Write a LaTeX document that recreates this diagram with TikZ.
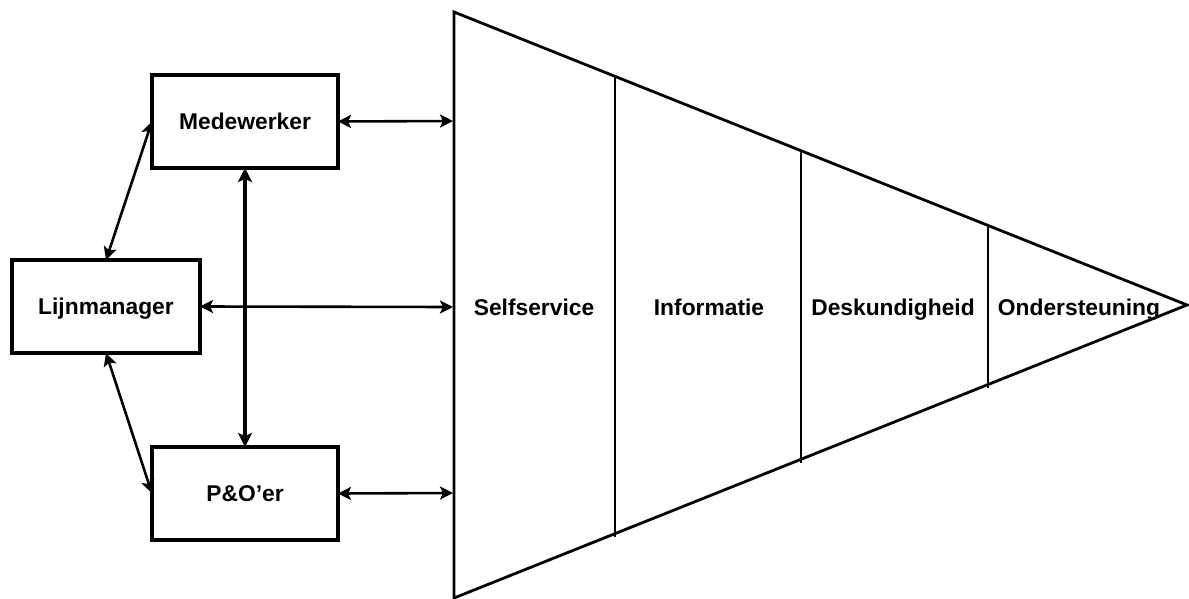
\documentclass[tikz,border=0pt]{standalone}
\usepackage{fontspec}
\setmainfont{Liberation Sans}
\usetikzlibrary{arrows.meta}
\begin{document}
\begin{tikzpicture}[x=1pt,y=-1pt,
  box/.style={draw,line width=3.5pt,minimum width=186pt,minimum height=93pt,inner sep=0pt,outer sep=0pt,text height=16.4pt,text depth=0pt,font=\fontsize{22.8}{26}\selectfont\bfseries},
  seglabel/.style={inner sep=0pt,text height=16.4pt,text depth=0pt,font=\fontsize{22.8}{26}\selectfont\bfseries},
  conn/.style={line width=2.6pt,{Stealth[length=13pt,width=13pt,inset=3pt]}-{Stealth[length=13pt,width=13pt,inset=3pt]}},
  thickconn/.style={line width=4.5pt,{Stealth[length=14pt,width=14pt,inset=3pt]}-{Stealth[length=14pt,width=14pt,inset=3pt]}},
  tri/.style={line width=2.8pt,line join=miter}]
\useasboundingbox (0,0) rectangle (1189,599);
% triangle
\coordinate (T1) at (454,12);
\coordinate (T2) at (1187,305);
\coordinate (T3) at (454,598);
\draw[tri] (T1) -- (T2) -- (T3) -- cycle;
% dividers
\coordinate (d1a) at (615,76);  \coordinate (d1b) at (615,537);
\coordinate (d2a) at (801,150); \coordinate (d2b) at (801,463);
\coordinate (d3a) at (988,225); \coordinate (d3b) at (988,388);
\draw[line width=2.5pt] (d1a) -- (d1b);
\draw[line width=2.5pt] (d2a) -- (d2b);
\draw[line width=2.5pt] (d3a) -- (d3b);
% segment labels
\node[seglabel] (s1) at (534,307) {Selfservice};
\node[seglabel] (s2) at (709,307) {Informatie};
\node[seglabel] (s3) at (893,307) {Deskundigheid};
\node[seglabel] (s4) at (1079,307) {Ondersteuning};
% boxes
\node[box] (med) at (245,121.5) {Medewerker};
\node[box,minimum width=188pt] (lm) at (106,306.5) {Lijnmanager};
\node[box] (po) at (245,493.5) {P\&O’er};
% arrow endpoints on triangle side
\coordinate (em) at (453,121);
\coordinate (el) at (453,307);
\coordinate (ep) at (453,493);
\draw[conn] (med.east) -- (em);
\draw[conn] (lm.east) -- (el);
\draw[conn] (po.east) -- (ep);
\draw[thickconn] (med.south) -- (po.north);
\draw[conn] (lm.north) -- (med.west);
\draw[conn] (lm.south) -- (po.west);
\end{tikzpicture}
\end{document}
